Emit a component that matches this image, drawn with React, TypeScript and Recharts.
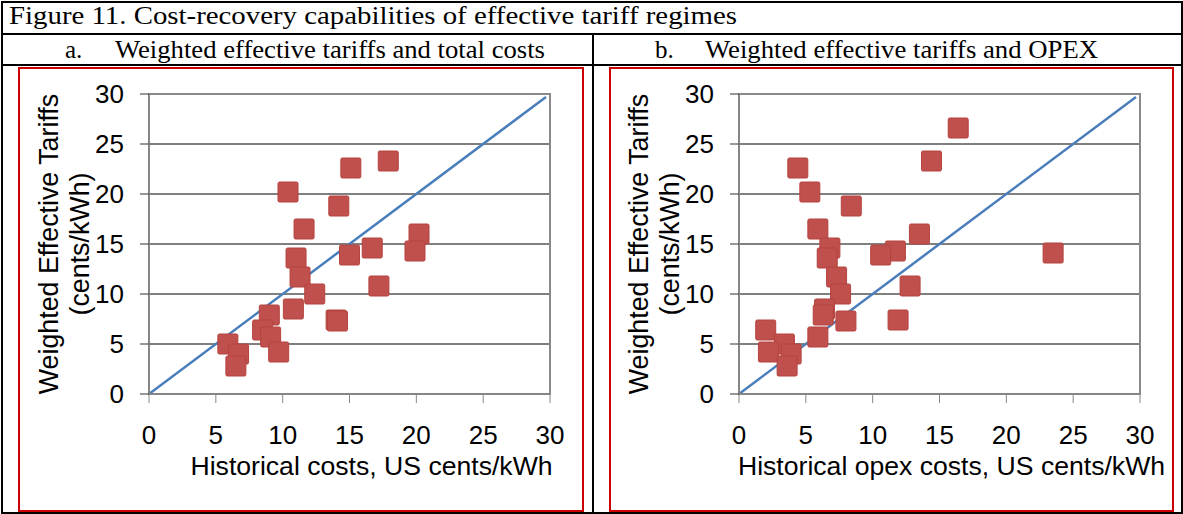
import { CartesianGrid, ReferenceArea, ReferenceLine, Scatter, ScatterChart, XAxis, YAxis } from "recharts"

const TICKS = [0, 5, 10, 15, 20, 25, 30]

// panel a: historical total costs vs weighted effective tariffs
const TOTAL_COSTS = [10.4, 15.1, 17.9, 14.2, 11.6, 20.2, 19.9, 16.7, 15.0, 11.0, 11.3, 12.4, 17.2, 10.8, 9.0, 14.0, 14.1, 8.5, 9.1, 9.7, 5.9, 6.7, 6.5]
const TARIFFS_A = [20.2, 22.6, 23.3, 18.8, 16.5, 16.0, 14.3, 14.6, 13.9, 13.6, 11.7, 10.0, 10.8, 8.5, 7.9, 7.4, 7.3, 6.4, 5.7, 4.2, 5.0, 4.0, 2.8]

// panel b: historical opex vs weighted effective tariffs
const OPEX_COSTS = [16.4, 14.4, 4.4, 5.3, 8.4, 5.9, 13.5, 6.8, 6.6, 11.7, 10.6, 23.5, 7.3, 7.6, 12.8, 6.4, 6.3, 8.0, 11.9, 2.0, 5.9, 3.4, 2.2, 3.9, 3.6]
const TARIFFS_B = [26.6, 23.3, 22.6, 20.2, 18.8, 16.5, 16.0, 14.6, 13.6, 14.3, 13.9, 14.1, 11.7, 10.0, 10.8, 8.5, 7.9, 7.3, 7.4, 6.4, 5.7, 5.0, 4.2, 4.0, 2.8]

// 45 degree reference line
const DIAGONAL = [0, 29.7]

type Pt = { x: number; y: number }

const toPoints = (xs: number[], ys: number[]): Pt[] => xs.map((x, i) => ({ x, y: ys[i] }))
const diagonal = DIAGONAL.map((v) => ({ x: v, y: v }))

const SANS = "'Liberation Sans', Arial, sans-serif"
const SERIF = "'Liberation Serif', 'Times New Roman', serif"

const Square = (props: any) => {
  const { cx, cy } = props
  if (cx == null || cy == null) return <g />
  return (
    <rect
      x={cx - 10}
      y={cy - 10}
      width={20}
      height={20}
      rx={1.5}
      fill="#C0504D"
      stroke="#B5433F"
      strokeWidth={1}
    />
  )
}

const yLabel = (props: any) => {
  const vb = props.viewBox ?? { x: 0, y: 25, width: 128, height: 300 }
  const cy = vb.y + vb.height / 2
  return (
    <g fontFamily={SANS} fontSize={26.8} fill="#000">
      <text transform={`translate(${vb.x + 37},${cy}) rotate(-90)`} textAnchor="middle">
        Weighted Effective Tariffs
      </text>
      <text transform={`translate(${vb.x + 68},${cy}) rotate(-90)`} textAnchor="middle">
        (cents/kWh)
      </text>
    </g>
  )
}

const makeXLabel = (title: string, dx: number) => (props: any) => {
  const vb = props.viewBox ?? { x: 128, y: 325, width: 401, height: 115 }
  return (
    <text
      x={vb.x + vb.width / 2 + dx}
      y={vb.y + 81}
      textAnchor="middle"
      fontFamily={SANS}
      fontSize={26.6}
      fill="#000"
    >
      {title}
    </text>
  )
}

interface PanelProps {
  points: Pt[]
  xTitle: string
  titleDx: number
  left: number
}

const Panel = ({ points, xTitle, titleDx, left }: PanelProps) => (
  <div style={{ position: "absolute", left, top: 69, fontFamily: SANS }}>
    <ScatterChart width={560} height={440} margin={{ top: 25, right: 31, bottom: 0, left: 0 }}>
      <CartesianGrid horizontal vertical={false} stroke="#000" strokeWidth={1} />
      <XAxis
        type="number"
        dataKey="x"
        domain={[0, 30]}
        ticks={TICKS}
        allowDataOverflow
        height={115}
        tickSize={9}
        tickMargin={23}
        tick={{ fill: "#000", fontSize: 26 }}
        axisLine={{ stroke: "#868686", strokeWidth: 2 }}
        tickLine={{ stroke: "#868686" }}
        label={makeXLabel(xTitle, titleDx)}
      />
      <YAxis
        type="number"
        dataKey="y"
        domain={[0, 30]}
        ticks={TICKS}
        allowDataOverflow
        width={128}
        tickSize={9}
        tickMargin={16}
        tick={{ fill: "#000", fontSize: 26 }}
        axisLine={{ stroke: "#868686", strokeWidth: 2 }}
        tickLine={{ stroke: "#333" }}
        label={yLabel}
      />
      <ReferenceArea x1={0} x2={30} y1={0} y2={30} fill="none" stroke="#8a8a8a" strokeWidth={2} />
      <ReferenceLine segment={diagonal} stroke="#4A7EBB" strokeWidth={2.5} />
      <Scatter data={points} shape={Square} isAnimationActive={false} />
    </ScatterChart>
  </div>
)

export default function App() {
  return (
    <div
      style={{
        position: "absolute",
        left: 0,
        top: 0,
        width: 1183,
        height: 514,
        background: "#fff",
        overflow: "hidden",
      }}
    >
      <svg
        width={1183}
        height={514}
        style={{ position: "absolute", left: 0, top: 0 }}
        fontFamily={SERIF}
        fontSize={25}
      >
        <rect x={2} y={2} width={1180} height={511} fill="none" stroke="#000" strokeWidth={2} />
        <line x1={1} y1={34} x2={1183} y2={34} stroke="#000" strokeWidth={2} />
        <line x1={1} y1={65} x2={1183} y2={65} stroke="#000" strokeWidth={2} />
        <line x1={593} y1={34} x2={593} y2={514} stroke="#000" strokeWidth={2} />
        <rect x={19} y={68} width={564} height={443} fill="none" stroke="#CC0000" strokeWidth={2} />
        <rect x={610} y={68} width={563} height={443} fill="none" stroke="#CC0000" strokeWidth={2} />
        <text x={9} y={24} textLength={728} lengthAdjust="spacingAndGlyphs">
          Figure 11. Cost-recovery capabilities of effective tariff regimes
        </text>
        <text x={65} y={58}>a.</text>
        <text x={115} y={58} textLength={430} lengthAdjust="spacingAndGlyphs">
          Weighted effective tariffs and total costs
        </text>
        <text x={655} y={58}>b.</text>
        <text x={705} y={58} textLength={393} lengthAdjust="spacingAndGlyphs">
          Weighted effective tariffs and OPEX
        </text>
      </svg>
      <Panel
        points={toPoints(TOTAL_COSTS, TARIFFS_A)}
        xTitle="Historical costs, US cents/kWh"
        titleDx={22}
        left={21}
      />
      <Panel
        points={toPoints(OPEX_COSTS, TARIFFS_B)}
        xTitle="Historical opex costs, US cents/kWh"
        titleDx={12}
        left={611}
      />
    </div>
  )
}
